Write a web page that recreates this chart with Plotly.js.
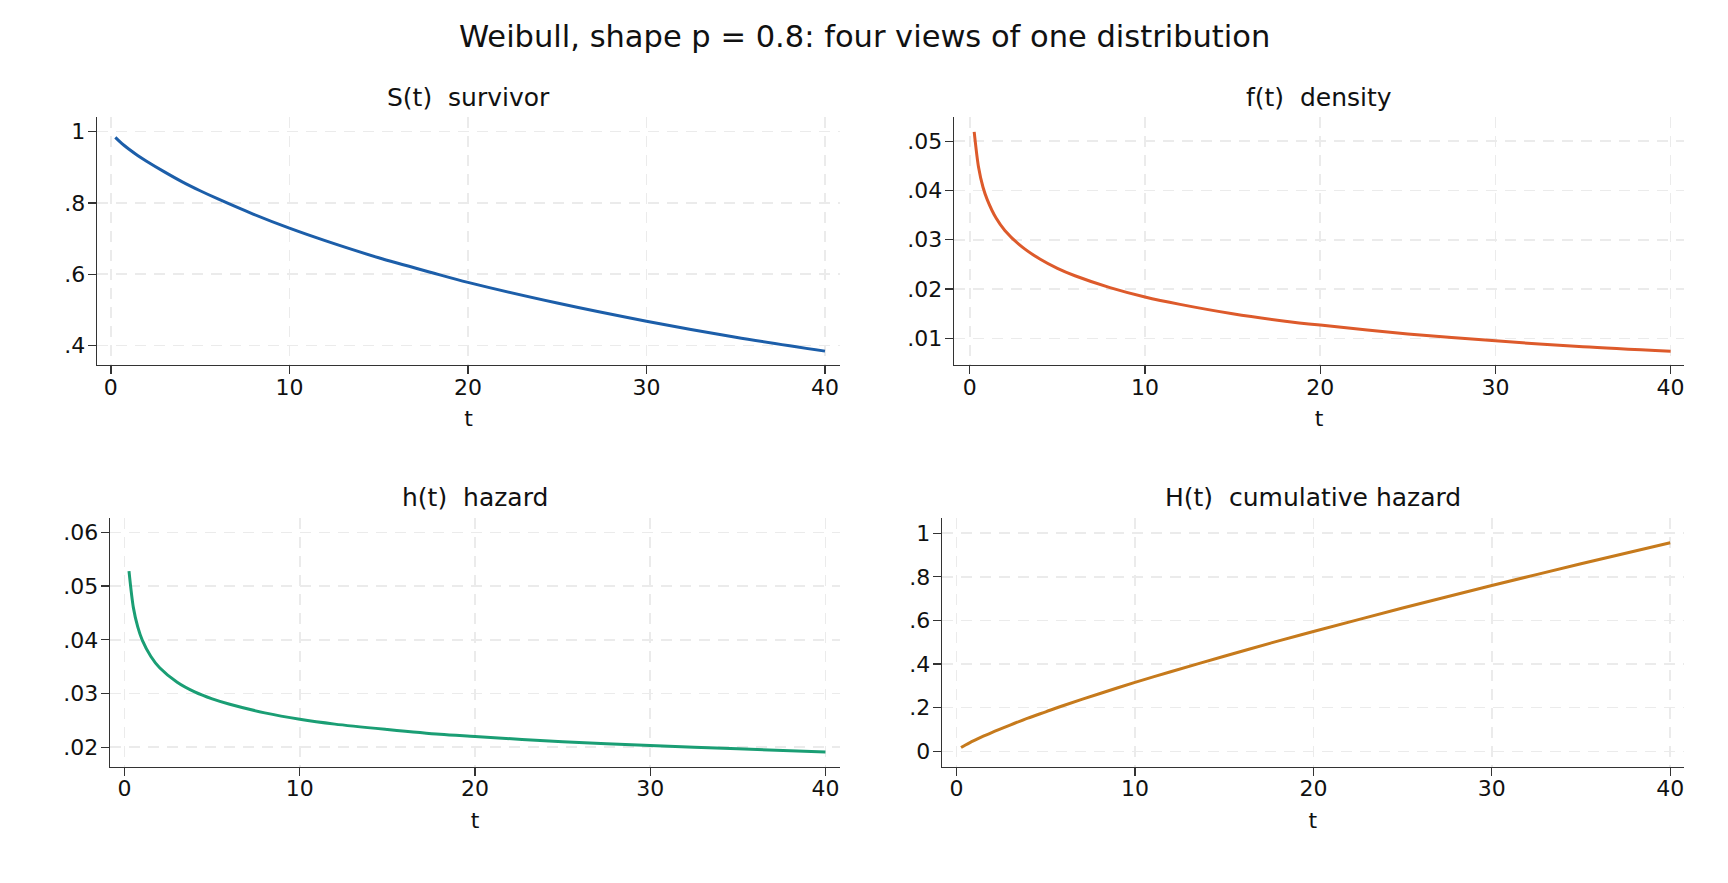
<!DOCTYPE html>
<html>
<head>
<meta charset="utf-8">
<script src="https://cdn.plot.ly/plotly-3.0.1.min.js"></script>
<style>
  html, body { margin: 0; padding: 0; background: #fff; }
  #chart { width: 1728px; height: 883px; }
</style>
</head>
<body>
<div id="chart"></div>
<script>
// values
var t        = [0.25, 0.5, 0.75, 1, 1.5, 2, 3, 4, 5, 6, 8, 10, 12, 15, 18, 20, 25, 30, 35, 40];
var survivor = [0.984, 0.972, 0.961, 0.951, 0.933, 0.917, 0.887, 0.859, 0.834, 0.811, 0.768, 0.729, 0.694, 0.646, 0.604, 0.577, 0.519, 0.468, 0.423, 0.384];
var density  = [0.0519, 0.0447, 0.0407, 0.0381, 0.0344, 0.0319, 0.0285, 0.0261, 0.0242, 0.0227, 0.0203, 0.0184, 0.0169, 0.0150, 0.0135, 0.0127, 0.0109, 0.0095, 0.0083, 0.0074];
var hazard   = [0.0528, 0.0460, 0.0424, 0.0400, 0.0369, 0.0348, 0.0321, 0.0303, 0.0290, 0.0280, 0.0264, 0.0252, 0.0243, 0.0233, 0.0224, 0.0220, 0.0210, 0.0203, 0.0197, 0.0191];
var cumHaz   = [0.017, 0.029, 0.040, 0.050, 0.069, 0.087, 0.120, 0.152, 0.181, 0.210, 0.264, 0.316, 0.365, 0.436, 0.505, 0.549, 0.657, 0.760, 0.860, 0.956];

var xTicks = [0, 10, 20, 30, 40];
var sTicks = [0.4, 0.6, 0.8, 1];
var sLabels = ['.4', '.6', '.8', '1'];
var fTicks = [0.01, 0.02, 0.03, 0.04, 0.05];
var fLabels = ['.01', '.02', '.03', '.04', '.05'];
var hTicks = [0.02, 0.03, 0.04, 0.05, 0.06];
var hLabels = ['.02', '.03', '.04', '.05', '.06'];
var HTicks = [0, 0.2, 0.4, 0.6, 0.8, 1];
var HLabels = ['0', '.2', '.4', '.6', '.8', '1'];

var panelTitles = ['S(t)  survivor', 'f(t)  density', 'h(t)  hazard', 'H(t)  cumulative hazard'];
var colors = ['#1c5ea9', '#dd5a2b', '#1a9e74', '#c67a1c'];

var font = 'DejaVu Sans, sans-serif';

function trace(y, i) {
  var n = i === 0 ? '' : String(i + 1);
  return {
    type: 'scatter', mode: 'lines',
    x: t, y: y,
    xaxis: 'x' + n, yaxis: 'y' + n,
    line: {color: colors[i], width: 3, shape: 'spline', smoothing: 0.8},
    hoverinfo: 'x+y', showlegend: false
  };
}

function xax(dom, rng, anchor) {
  return {
    domain: dom, range: rng, anchor: anchor,
    tickvals: xTicks, ticktext: xTicks.map(String),
    ticks: 'outside', ticklen: 8, tickwidth: 1.3, tickcolor: '#333',
    ticklabelstandoff: -6,
    showline: true, linecolor: '#333', linewidth: 1.3,
    showgrid: true, gridcolor: '#ebebeb', gridwidth: 1.5, griddash: '11px,8px',
    zeroline: false,
    tickfont: {family: font, size: 22, color: '#111'},
    title: {text: 't', font: {family: font, size: 22, color: '#111'}, standoff: 12}
  };
}

function yax(dom, rng, vals, labels, anchor) {
  return {
    domain: dom, range: rng, anchor: anchor,
    tickvals: vals, ticktext: labels,
    ticks: 'outside', ticklen: 8, tickwidth: 1.3, tickcolor: '#333',
    ticklabelstandoff: -2,
    showline: true, linecolor: '#333', linewidth: 1.3,
    showgrid: true, gridcolor: '#ebebeb', gridwidth: 1.5, griddash: '11px,8px',
    zeroline: false,
    tickfont: {family: font, size: 22, color: '#111'}
  };
}

var data = [trace(survivor, 0), trace(density, 1), trace(hazard, 2), trace(cumHaz, 3)];

var topRow = [0.5866, 0.8675];
var botRow = [0.1319, 0.4134];

var layout = {
  width: 1728, height: 883,
  margin: {l: 0, r: 0, t: 0, b: 0},
  paper_bgcolor: '#fff', plot_bgcolor: '#fff',
  font: {family: font, color: '#111'},
  xaxis:  xax([0.0561, 0.4861], [-0.78, 40.84], 'y'),
  yaxis:  yax(topRow, [0.345, 1.041], sTicks, sLabels, 'x'),
  xaxis2: xax([0.5521, 0.9745], [-0.90, 40.76], 'y2'),
  yaxis2: yax(topRow, [0.0046, 0.0549], fTicks, fLabels, 'x2'),
  xaxis3: xax([0.0637, 0.4861], [-0.83, 40.83], 'y3'),
  yaxis3: yax(botRow, [0.0164, 0.0627], hTicks, hLabels, 'x3'),
  xaxis4: xax([0.5451, 0.9745], [-0.82, 40.77], 'y4'),
  yaxis4: yax(botRow, [-0.07, 1.07], HTicks, HLabels, 'x4'),
  annotations: [
    {text: 'Weibull, shape p = 0.8: four views of one distribution', xref: 'paper', yref: 'paper',
     x: 0.5, y: 0.959, xanchor: 'center', yanchor: 'middle', showarrow: false,
     font: {family: font, size: 30.5, color: '#111'}},
    {text: panelTitles[0], xref: 'paper', yref: 'paper', x: 0.2711, y: 0.890,
     xanchor: 'center', yanchor: 'middle', showarrow: false, font: {family: font, size: 25, color: '#111'}},
    {text: panelTitles[1], xref: 'paper', yref: 'paper', x: 0.7633, y: 0.890,
     xanchor: 'center', yanchor: 'middle', showarrow: false, font: {family: font, size: 25, color: '#111'}},
    {text: panelTitles[2], xref: 'paper', yref: 'paper', x: 0.2749, y: 0.4365,
     xanchor: 'center', yanchor: 'middle', showarrow: false, font: {family: font, size: 25, color: '#111'}},
    {text: panelTitles[3], xref: 'paper', yref: 'paper', x: 0.7598, y: 0.4365,
     xanchor: 'center', yanchor: 'middle', showarrow: false, font: {family: font, size: 25, color: '#111'}}
  ]
};

Plotly.newPlot('chart', data, layout, {displayModeBar: false, staticPlot: true});
</script>
</body>
</html>
